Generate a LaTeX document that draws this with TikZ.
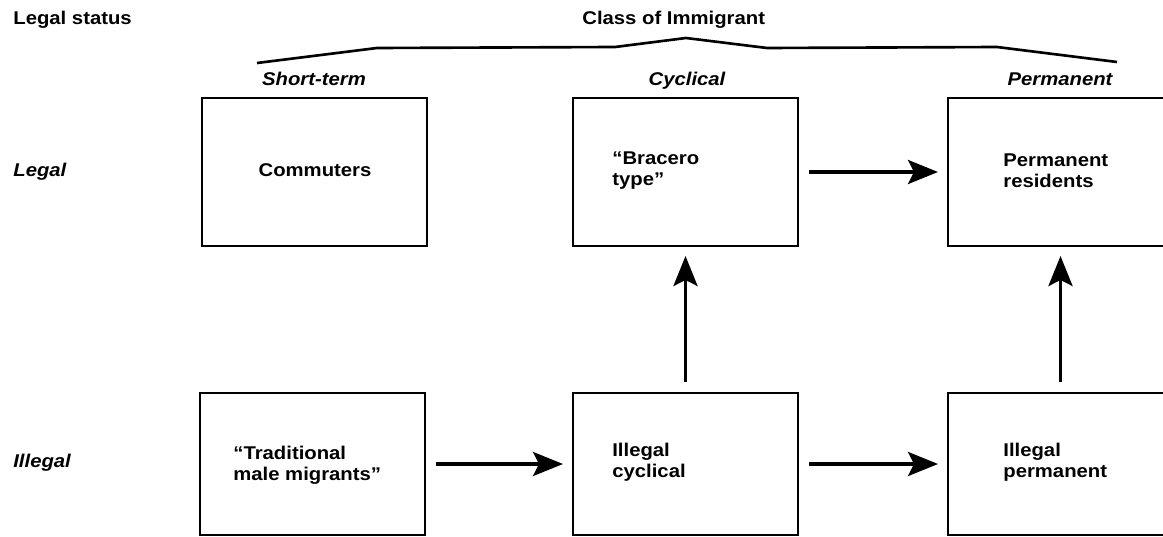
\documentclass[tikz,border=0pt]{standalone}
\usepackage{fontspec}
\setmainfont{Liberation Sans}[FakeStretch=1.1]
\usetikzlibrary{arrows.meta}
\begin{document}
\begin{tikzpicture}[x=0.02cm,y=-0.02cm,
  box/.style={draw, line width=1.6pt, minimum width=4.5cm, inner sep=0pt, outer sep=0pt},
  toprow/.style={box, minimum height=2.96cm},
  botrow/.style={box, minimum height=2.84cm},
  lbl/.style={font=\fontsize{10.5}{12}\selectfont\bfseries, inner sep=0pt},
  ilbl/.style={font=\fontsize{10.5}{12}\selectfont\bfseries\itshape, inner sep=0pt},
  txt/.style={lbl, align=left, anchor=west},
  flow/.style={-{Stealth[length=0.6cm,width=0.48cm,inset=0.12cm]}, line width=2pt, shorten <=0.22cm, shorten >=0.2cm}
]
\useasboundingbox (0,0) rectangle (1163,537);
% headers
\node[lbl, anchor=west] (hstatus) at (13,20) {Legal status};
\node[lbl, anchor=west] (hclass) at (582,20) {Class of Immigrant};
\draw[line width=1.5pt, line join=round] (257,63) -- (377,48) -- (615,47) -- (686,38) -- (767,48) -- (997,47) -- (1117,62);
\node[ilbl, anchor=base] (hshort) at (314,86) {Short-term};
\node[ilbl, anchor=base] (hcyc) at (687,86) {Cyclical};
\node[ilbl, anchor=base] (hperm) at (1060,86) {Permanent};
\node[ilbl, anchor=west] (hlegal) at (13,172) {Legal};
\node[ilbl, anchor=west] (hillegal) at (13,463) {Illegal};
% boxes
\node[toprow] (com) at (314.5,172) {};
\node[toprow] (bra) at (685.5,172) {};
\node[toprow] (per) at (1060.5,172) {};
\node[botrow] (tra) at (312.5,464) {};
\node[botrow] (icy) at (685.5,464) {};
\node[botrow] (ipe) at (1060.5,464) {};
% texts
\node[lbl] (tcom) at (315,170) {Commuters};
\node[txt] (tbra) at (612,171) {“Bracero\\type”};
\node[txt] (tper) at (1003,171) {Permanent\\residents};
\node[txt] (ttra) at (233,465) {“Traditional\\male migrants”};
\node[txt] (ticy) at (612,462) {Illegal\\cyclical};
\node[txt] (tipe) at (1003,462) {Illegal\\permanent};
% connectors
\draw[flow] (bra.east) -- (per.west);
\draw[flow] (tra.east) -- (icy.west);
\draw[flow] (icy.east) -- (ipe.west);
\draw[flow] (icy.north) -- (bra.south);
\draw[flow] (ipe.north) -- (per.south);
\end{tikzpicture}
\end{document}
